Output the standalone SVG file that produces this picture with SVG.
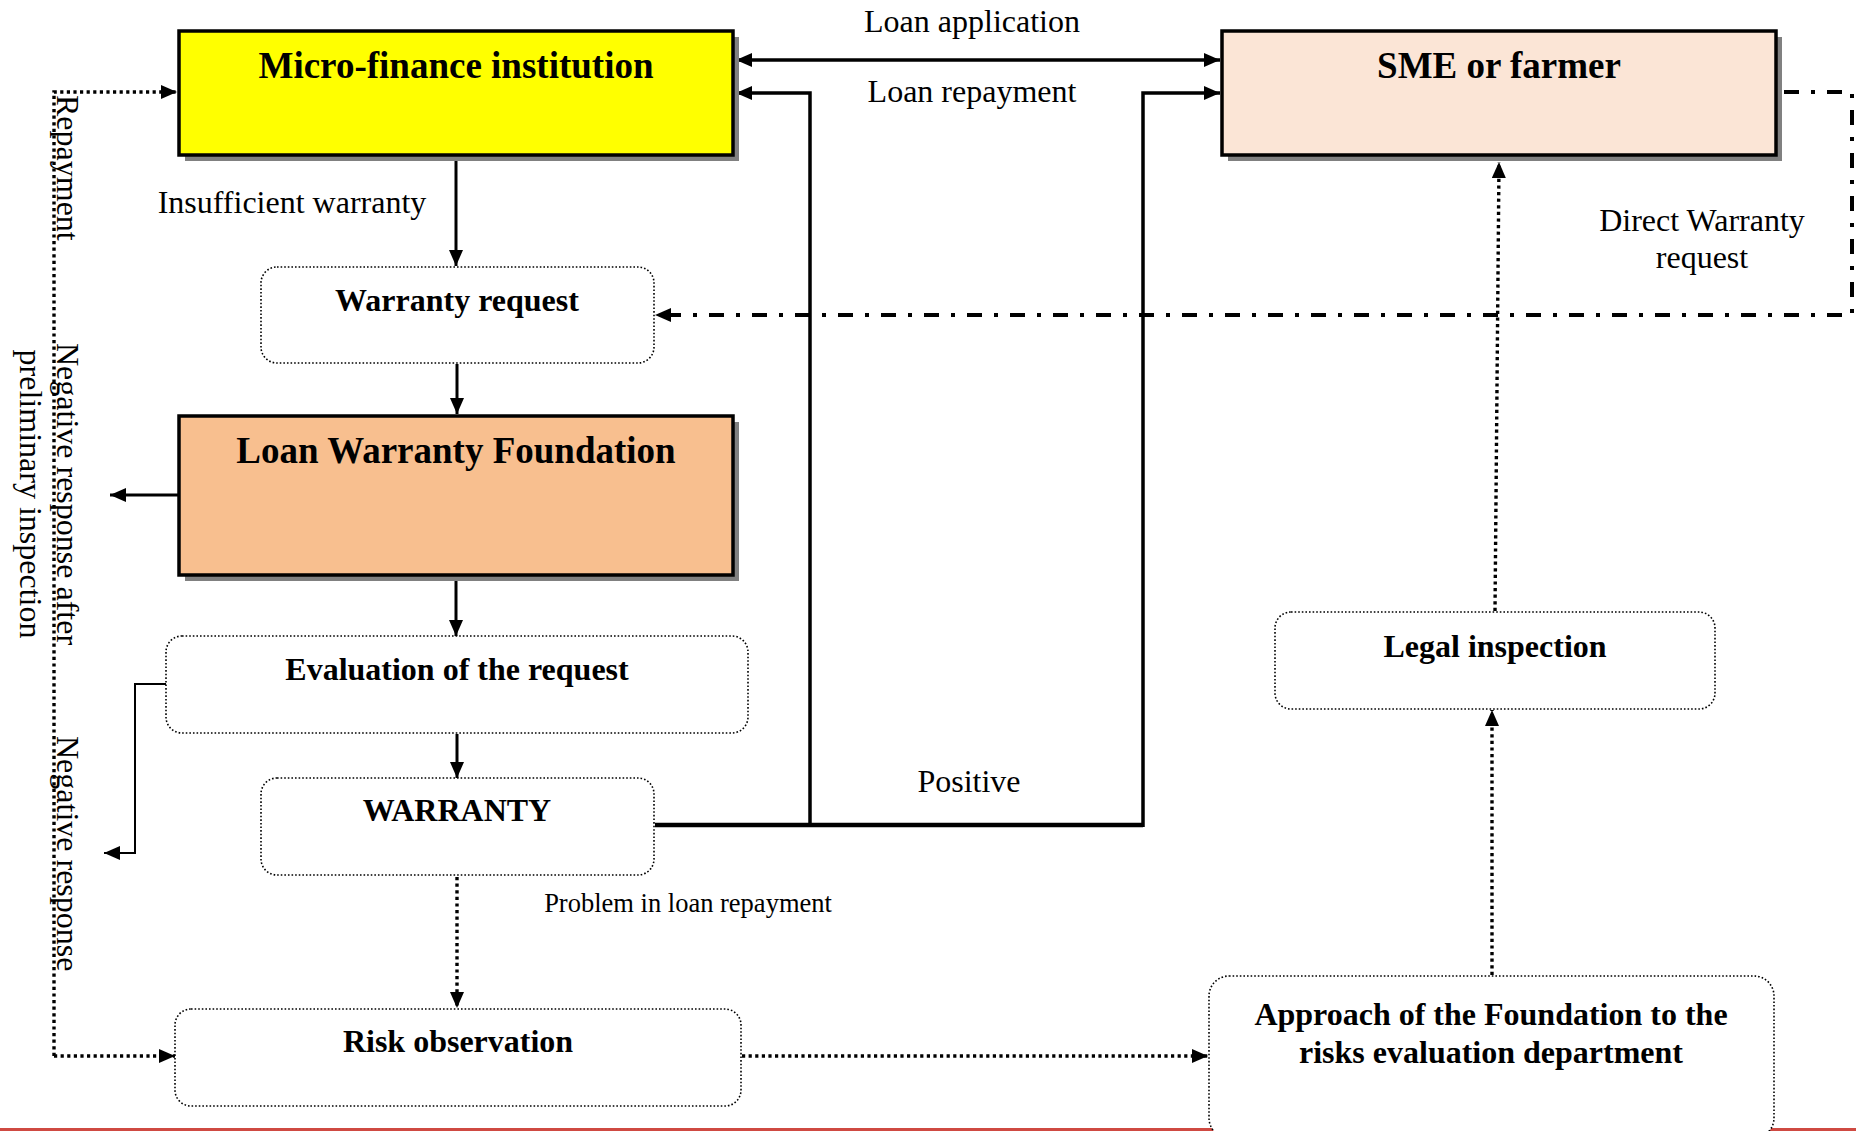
<svg xmlns="http://www.w3.org/2000/svg" width="1856" height="1131" viewBox="0 0 1856 1131">
<style>
text{font-family:"Liberation Serif","Times New Roman",serif;fill:#000}
.t{font-size:37px;font-weight:bold;text-anchor:middle}
.b{font-size:32px;font-weight:bold;text-anchor:middle}
.l{font-size:32px}
.lm{font-size:32px;text-anchor:middle}
.main{stroke:#000;stroke-width:3.5}
.shadow{fill:#808080}
.rbox{fill:#fff;stroke:#000;stroke-width:1.6;stroke-dasharray:1.6 2}
.solid{fill:none;stroke:#000;stroke-width:3}
.thick{fill:none;stroke:#000;stroke-width:3.5}
.dot{fill:none;stroke:#000;stroke-width:3.4;stroke-dasharray:3.2 3.4}
.dashdot{fill:none;stroke:#000;stroke-width:4;stroke-dasharray:15 12 4 12}
</style>
<defs>
<marker id="ah" markerUnits="userSpaceOnUse" markerWidth="16" markerHeight="14" refX="16" refY="7" orient="auto-start-reverse">
<path d="M0,0 L16,7 L0,14 Z" fill="#000"/>
</marker>
</defs>
<rect width="1856" height="1131" fill="#fff"/>
<rect x="0" y="1128" width="1856" height="3" fill="#cf4a42"/>

<g id="connectors">
<path class="thick" d="M736,60 H1220" marker-start="url(#ah)" marker-end="url(#ah)"/>
<path d="M655,825 H1143" fill="none" stroke="#000" stroke-width="4.5"/>
<path class="thick" d="M1143,827 V93 H1220" marker-end="url(#ah)"/>
<path class="thick" d="M810,827 V93 H736" marker-end="url(#ah)"/>
<path class="solid" d="M456,158 V266" marker-end="url(#ah)"/>
<path class="solid" d="M457,364 V414" marker-end="url(#ah)"/>
<path class="solid" d="M456,578 V636" marker-end="url(#ah)"/>
<path class="solid" d="M457,734 V778" marker-end="url(#ah)"/>
<path class="dot" d="M457,877 V1008" marker-end="url(#ah)"/>
<path class="solid" d="M178,495 H110" stroke-width="2.5" marker-end="url(#ah)"/>
<path fill="none" stroke="#000" stroke-width="2" d="M166,684 H135 V853 H104" marker-end="url(#ah)"/>
<path class="dot" d="M54,1056 V92 H177" marker-end="url(#ah)"/>
<path class="dot" d="M54,1056 H175" marker-end="url(#ah)"/>
<path class="dashdot" d="M1784,92 H1852 V315 H655" marker-end="url(#ah)"/>
<path class="dot" d="M742,1056 H1208" marker-end="url(#ah)"/>
<path class="dot" d="M1492,975 V710" marker-end="url(#ah)"/>
<path class="dot" d="M1495,611 L1499,162" marker-end="url(#ah)"/>
</g>

<g id="labels">
<text class="lm" x="972" y="32">Loan application</text>
<text class="lm" x="972" y="102">Loan repayment</text>
<text class="lm" x="292" y="213">Insufficient warranty</text>
<text class="lm" x="1702" y="231">Direct Warranty</text>
<text class="lm" x="1702" y="268">request</text>
<text class="lm" x="969" y="792">Positive</text>
<text x="688" y="912" style="font-size:26.5px;text-anchor:middle">Problem in loan repayment</text>
<text class="l" transform="translate(57,95) rotate(90)">Repayment</text>
<text class="l" transform="translate(57,343) rotate(90)">Negative response after</text>
<text class="lm" transform="translate(20,494) rotate(90)">preliminary inspection</text>
<text class="l" transform="translate(57,736) rotate(90)">Negative response</text>
</g>

<g id="mfi">
<rect class="shadow" x="185" y="37" width="554" height="124"/>
<rect class="main" x="179" y="31" width="554" height="124" fill="#ffff00"/>
<text class="t" x="456" y="78">Micro-finance institution</text>
</g>
<g id="sme">
<rect class="shadow" x="1228" y="37" width="554" height="124"/>
<rect class="main" x="1222" y="31" width="554" height="124" fill="#fbe5d6"/>
<text class="t" x="1499" y="78">SME or farmer</text>
</g>
<g id="warranty-request">
<rect class="rbox" x="261" y="267" width="393" height="96" rx="16"/>
<text class="b" x="457" y="311">Warranty request</text>
</g>
<g id="lwf">
<rect class="shadow" x="185" y="422" width="554" height="159"/>
<rect class="main" x="179" y="416" width="554" height="159" fill="#f8bf8f"/>
<text class="t" x="456" y="463">Loan Warranty Foundation</text>
</g>
<g id="evaluation">
<rect class="rbox" x="166" y="636" width="582" height="97" rx="16"/>
<text class="b" x="457" y="680">Evaluation of the request</text>
</g>
<g id="warranty">
<rect class="rbox" x="261" y="778" width="393" height="97" rx="16"/>
<text class="b" x="457" y="821">WARRANTY</text>
</g>
<g id="risk">
<rect class="rbox" x="175" y="1009" width="566" height="97" rx="16"/>
<text class="b" x="458" y="1052">Risk observation</text>
</g>
<g id="legal">
<rect class="rbox" x="1275" y="612" width="440" height="97" rx="16"/>
<text class="b" x="1495" y="657">Legal inspection</text>
</g>
<g id="approach">
<rect class="rbox" x="1209" y="976" width="565" height="162" rx="20"/>
<text class="b" x="1491" y="1025">Approach of the Foundation to the</text>
<text class="b" x="1491" y="1063">risks evaluation department</text>
</g>
</svg>
